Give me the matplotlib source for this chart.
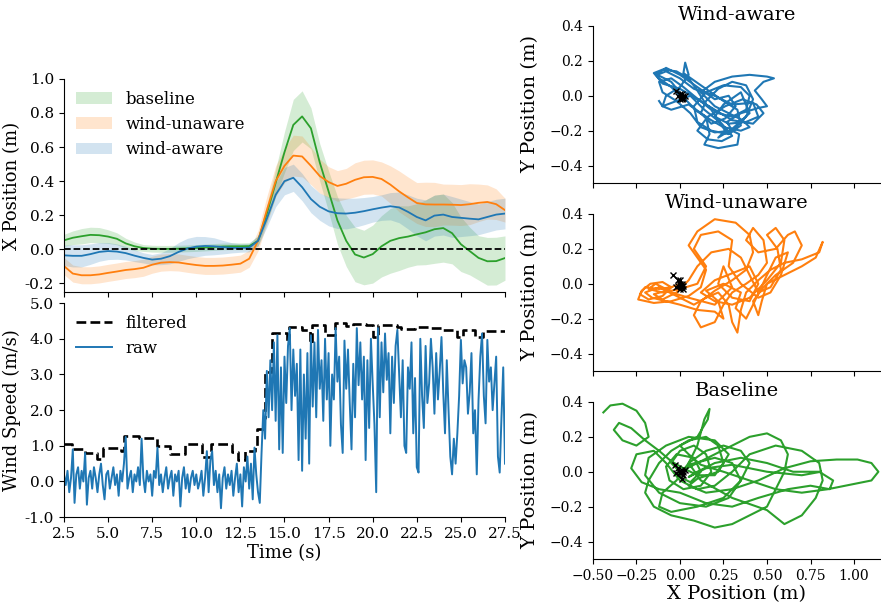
import numpy as np
import matplotlib
matplotlib.use("Agg")
from matplotlib import pyplot as plt
from matplotlib.ticker import FormatStrFormatter

plt.rcParams['font.family'] = ['DejaVu Serif']

# ---- X position over time (mean and spread), sampled every 0.5 s ----
t_pos = np.arange(2.5, 27.51, 0.5)

baseline_mean = [0.053, 0.068, 0.077, 0.085, 0.083, 0.075, 0.062, 0.035, 0.018, 0.008,
                 0.004, 0.003, 0.003, 0.004, 0.006, 0.008, 0.011, 0.014, 0.017, 0.018,
                 0.018, 0.019, 0.05, 0.21, 0.39, 0.57, 0.73, 0.78, 0.71, 0.51,
                 0.34, 0.17, 0.05, -0.03, -0.048, -0.028, 0.018, 0.05, 0.066, 0.075,
                 0.088, 0.1, 0.118, 0.125, 0.095, 0.03, -0.01, -0.05, -0.07, -0.069,
                 -0.051]
baseline_std = [0.035, 0.04, 0.045, 0.045, 0.045, 0.04, 0.035, 0.03, 0.025, 0.02,
                0.02, 0.02, 0.02, 0.02, 0.02, 0.02, 0.02, 0.02, 0.02, 0.02,
                0.02, 0.02, 0.03, 0.05, 0.08, 0.12, 0.15, 0.15, 0.12, 0.11,
                0.12, 0.14, 0.15, 0.16, 0.16, 0.17, 0.18, 0.19, 0.19, 0.18,
                0.18, 0.19, 0.2, 0.2, 0.18, 0.16, 0.14, 0.13, 0.14, 0.14,
                0.13]

unaware_mean = [-0.098, -0.142, -0.152, -0.152, -0.147, -0.138, -0.13, -0.121, -0.116, -0.108,
                -0.09, -0.078, -0.075, -0.077, -0.085, -0.092, -0.097, -0.097, -0.095, -0.09,
                -0.084, -0.055, 0.05, 0.23, 0.4, 0.49, 0.55, 0.545, 0.49, 0.43,
                0.395, 0.372, 0.385, 0.408, 0.423, 0.425, 0.413, 0.38, 0.34, 0.305,
                0.272, 0.264, 0.263, 0.263, 0.262, 0.26, 0.265, 0.273, 0.278, 0.265,
                0.23]
unaware_std = [0.05, 0.05, 0.05, 0.05, 0.05, 0.05, 0.05, 0.05, 0.05, 0.05,
               0.05, 0.05, 0.05, 0.05, 0.05, 0.05, 0.05, 0.05, 0.05, 0.05,
               0.05, 0.05, 0.06, 0.08, 0.09, 0.1, 0.12, 0.12, 0.11, 0.1,
               0.09, 0.09, 0.09, 0.1, 0.1, 0.1, 0.1, 0.11, 0.12, 0.12,
               0.12, 0.13, 0.13, 0.12, 0.12, 0.12, 0.12, 0.11, 0.1, 0.09,
               0.07]

aware_mean = [-0.035, -0.038, -0.038, -0.028, -0.015, -0.01, -0.013, -0.022, -0.037, -0.05,
              -0.06, -0.055, -0.04, -0.015, 0.005, 0.016, 0.02, 0.018, 0.013, 0.009,
              0.008, 0.01, 0.05, 0.18, 0.32, 0.4, 0.42, 0.365, 0.295, 0.25,
              0.223, 0.212, 0.21, 0.215, 0.224, 0.235, 0.245, 0.253, 0.246, 0.22,
              0.19, 0.17, 0.198, 0.204, 0.19, 0.185, 0.18, 0.176, 0.19, 0.204,
              0.21]
aware_std = [0.06, 0.065, 0.065, 0.06, 0.055, 0.05, 0.045, 0.04, 0.035, 0.03,
             0.03, 0.035, 0.045, 0.055, 0.06, 0.06, 0.055, 0.05, 0.04, 0.03,
             0.025, 0.025, 0.03, 0.05, 0.07, 0.08, 0.08, 0.08, 0.08, 0.08,
             0.085, 0.09, 0.09, 0.085, 0.08, 0.075, 0.075, 0.08, 0.09, 0.1,
             0.11, 0.12, 0.12, 0.12, 0.12, 0.11, 0.1, 0.09, 0.09, 0.09,
             0.09]

# ---- wind speed: raw (every 0.1 s) and filtered (step changes) ----
wind_raw = [0.2, -0.1, 0.3, -0.3, 0.1,
            0.9, -0.6, 0.2, 0.4, -0.2, 0.3, 0.0, 0.8, -0.65, 0.1,
            0.3, -0.2, 0.4, 0.1, -0.3, 0.2, 0.5, -0.1, -0.5, 0.2,
            0.3, -0.2, 0.1, 0.4, -0.1, 0.2, -0.4, 0.3, 0.0, 0.5,
            1.25, -0.2, 0.1, 0.3, -0.3, 0.2, 0.0, 0.4, -0.1, 1.2,
            0.1, -0.3, 0.3, 0.0, 0.2, -0.4, 0.3, 0.1, 0.95, -0.1,
            0.2, -0.3, 0.1, 0.4, -0.2, 0.1, 0.3, -0.4, 0.2, 0.0,
            0.3, -0.7, 0.1, 0.4, -0.2, 0.2, -0.3, 0.1, 0.3, -0.1,
            0.2, -0.2, 0.0, 0.3, -0.4, 0.1, 0.85, -0.3, 0.6, 0.85,
            -0.1, 0.3, -0.3, 0.2, -0.75, 0.1, 0.4, -0.2, 0.2, -0.1,
            0.3, -0.4, 0.1, 0.5, -0.3, 0.2, -0.7, 0.4, 0.0, 0.7,
            -0.2, 0.5, -0.5, 0.95, 0.2, -0.3,
            -0.6, 0.8, 2.0, 1.2, 3.1, 1.8, 3.4, 2.0, 3.9, 1.7,
            4.1, 0.9, 3.2, 0.8, 3.5, 2.2, 3.8, 4.3, 2.0, 3.7,
            2.4, 3.3, 0.6, 3.7, 0.3, 3.0, 1.2, 3.6, 0.5, 4.1,
            2.1, 3.9, 1.8, 4.25, 2.6, 3.4, 1.7, 4.0, 2.3, 3.6,
            1.0, 3.0, 2.3, 4.3, 2.8, 3.5, 1.6, 0.8, 3.95, 2.6,
            3.7, 2.2, 0.9, 3.3, 1.8, 4.3, 2.7, 3.9, 2.3, 3.5,
            0.6, 3.4, 1.5, 4.0, 2.75, 1.6, -0.3, 4.3, 1.8, 3.9,
            2.5, 4.15, 2.85, 3.6, 1.35, 3.5, 2.2, 3.8, 4.25, 3.0,
            1.8, 3.4, 1.0, 0.8, 3.2, 2.6, 3.9, 1.35, 2.9, 0.4,
            0.25, 4.0, 2.4, 1.5, 3.8, 2.2, 2.75, 4.0, 3.2, 1.9,
            3.6, 2.3, 3.1, 4.05, 2.5, 1.35, 3.4, 2.0, 0.7, 0.2,
            1.2, 0.5, 1.35, 2.4, 3.97, 2.75, 3.4, 3.2, 1.9, 2.5,
            3.6, 1.35, 2.0, 0.2, 2.28, 3.5, 4.15, 2.4, 1.63, 3.97,
            2.8, 3.2, 2.0, 2.75, 3.5, 0.7, 0.25, 1.8, 3.2, 0.5]
t_raw = np.linspace(2.5, 27.5, len(wind_raw))

filt_t = [2.5, 2.95, 3.7, 4.35, 4.7, 5.75, 5.9, 6.75, 7.75, 8.5,
          9.35, 10.3, 10.85, 12.0, 12.38, 12.76, 13.33, 13.42, 13.8, 13.9,
          14.27, 15.12, 15.26, 15.97, 16.45, 16.54, 17.3, 17.86, 18.5, 18.9,
          19.6, 20.03, 20.3, 21.36, 21.6, 22.4, 23.3, 24.0, 24.8, 25.1,
          25.8, 26.25, 27.5]
filt_v = [1.05, 0.90, 0.80, 0.64, 0.95, 0.85, 1.27, 1.23, 1.00, 0.78,
          1.05, 0.68, 1.06, 0.83, 0.61, 0.85, 0.97, 1.48, 1.77, 3.07,
          4.15, 3.87, 4.33, 4.25, 3.87, 4.38, 4.10, 4.43, 4.36, 4.42,
          4.40, 4.05, 4.40, 4.34, 4.27, 4.33, 4.30, 4.25, 4.05, 4.25,
          4.04, 4.22, 4.22]

# ---- XY trajectories, (x, y) pairs in metres ----
aware_xy = [(0.00, 0.00), (-0.05, 0.05), (-0.12, 0.10), (-0.15, 0.13), (-0.10, 0.15), (-0.02, 0.14),
            (0.05, 0.10), (0.10, 0.03), (0.15, -0.05), (0.22, -0.10), (0.30, -0.12), (0.38, -0.08),
            (0.40, 0.00), (0.35, 0.05), (0.25, 0.06), (0.15, 0.02), (0.08, -0.06), (0.10, -0.15),
            (0.18, -0.20), (0.28, -0.22), (0.35, -0.17), (0.33, -0.08), (0.25, -0.03), (0.12, 0.06),
            (0.02, 0.13), (0.03, 0.19), (0.05, 0.12), (0.00, 0.05), (-0.08, 0.00), (-0.10, -0.06),
            (-0.05, -0.08), (0.05, -0.05), (0.15, -0.12), (0.17, -0.22), (0.14, -0.28), (0.22, -0.30),
            (0.33, -0.28), (0.34, -0.22), (0.30, -0.20), (0.27, -0.15), (0.35, -0.10), (0.45, -0.07),
            (0.50, -0.06), (0.47, -0.02), (0.43, 0.03), (0.48, 0.08), (0.54, 0.10), (0.50, 0.11),
            (0.40, 0.12), (0.30, 0.11), (0.20, 0.08), (0.12, 0.02), (0.20, -0.06), (0.28, -0.10),
            (0.36, -0.14), (0.40, -0.18), (0.35, -0.20), (0.25, -0.18), (0.18, -0.14), (0.10, -0.09),
            (0.03, -0.02), (-0.05, 0.08), (-0.13, 0.12), (-0.08, 0.14), (0.00, 0.10), (0.08, 0.04),
            (0.20, 0.00), (0.30, -0.05), (0.42, -0.04), (0.45, -0.12), (0.38, -0.15), (0.28, -0.16),
            (0.20, -0.12), (0.25, -0.05), (0.35, 0.02), (0.40, -0.10), (0.30, -0.19), (0.22, -0.24),
            (0.26, -0.20), (0.18, -0.08), (0.08, 0.00), (0.02, 0.05), (-0.05, 0.10), (-0.12, 0.08),
            (-0.10, 0.02), (-0.02, -0.03), (0.06, -0.10), (0.12, -0.18), (0.20, -0.21), (0.30, -0.20),
            (0.38, -0.12), (0.42, -0.02), (0.38, 0.06), (0.30, 0.08), (0.22, 0.04), (0.15, -0.03),
            (0.12, -0.10), (0.18, -0.16), (0.26, -0.13), (0.32, -0.06), (0.28, 0.00), (0.20, -0.02),
            (0.10, 0.05), (0.00, 0.12), (-0.08, 0.16), (-0.14, 0.12), (-0.10, 0.07), (0.00, 0.04),
            (0.10, -0.02), (0.20, -0.08), (0.30, -0.14), (0.42, -0.16), (0.48, -0.10), (0.44, -0.05),
            (0.36, -0.02), (0.26, -0.06), (0.16, -0.12), (0.10, -0.20), (0.16, -0.25), (0.24, -0.26),
            (0.30, -0.23), (0.24, -0.16), (0.14, -0.08), (0.06, 0.00), (-0.10, -0.06), (-0.12, -0.03)]

unaware_xy = [(0.0, 0.0), (-0.05, -0.02), (-0.12, -0.03), (-0.2, -0.02), (-0.23, -0.06), (-0.18, -0.09),
              (-0.1, -0.07), (-0.05, -0.02), (-0.1, 0.01), (-0.17, 0.0), (-0.22, -0.04), (-0.24, -0.09),
              (-0.15, -0.11), (-0.05, -0.1), (0.05, -0.07), (0.12, -0.02), (0.15, 0.08), (0.10, 0.15),
              (0.05, 0.22), (0.10, 0.30), (0.2, 0.37), (0.32, 0.35), (0.4, 0.28), (0.42, 0.18),
              (0.38, 0.08), (0.3, 0.02), (0.2, -0.04), (0.12, -0.1), (0.08, -0.18), (0.12, -0.25),
              (0.2, -0.22), (0.25, -0.12), (0.3, -0.05), (0.38, 0.0), (0.45, 0.05), (0.5, 0.12),
              (0.48, 0.25), (0.42, 0.32), (0.38, 0.25), (0.45, 0.18), (0.55, 0.2), (0.62, 0.28),
              (0.66, 0.3), (0.7, 0.22), (0.65, 0.12), (0.55, 0.05), (0.48, -0.02), (0.42, -0.1),
              (0.45, -0.18), (0.47, -0.1), (0.5, 0.0), (0.6, 0.05), (0.7, 0.1), (0.78, 0.15),
              (0.82, 0.24), (0.8, 0.18), (0.7, 0.14), (0.6, 0.12), (0.52, 0.08), (0.45, 0.02),
              (0.38, -0.05), (0.35, -0.15), (0.33, -0.28), (0.3, -0.22), (0.28, -0.12), (0.22, -0.05),
              (0.15, -0.08), (0.08, -0.12), (0.0, -0.08), (-0.08, -0.04), (-0.15, -0.06), (-0.1, -0.09),
              (-0.02, -0.05), (0.05, 0.02), (0.1, 0.1), (0.18, 0.18), (0.28, 0.2), (0.35, 0.15),
              (0.4, 0.05), (0.45, -0.05), (0.52, -0.02), (0.58, 0.08), (0.56, 0.2), (0.5, 0.28),
              (0.55, 0.32), (0.6, 0.25), (0.58, 0.12), (0.5, 0.02), (0.4, -0.08), (0.3, -0.12),
              (0.2, -0.1), (0.12, -0.05), (0.2, 0.02), (0.3, 0.06), (0.4, 0.1), (0.45, 0.0),
              (0.4, -0.1), (0.3, -0.08), (0.22, 0.0), (0.25, 0.1), (0.3, -0.02), (0.2, -0.12),
              (0.05, -0.08), (-0.05, -0.05), (-0.12, -0.02), (-0.2, -0.05), (-0.16, -0.08), (-0.08, -0.1),
              (0.0, -0.12), (0.1, -0.15), (0.2, -0.16), (0.25, -0.2), (0.22, -0.1), (0.15, -0.04),
              (0.25, 0.0), (0.35, -0.05), (0.32, -0.14), (0.38, -0.2), (0.42, -0.12), (0.5, 0.05),
              (0.55, 0.15), (0.62, 0.18), (0.58, 0.05), (0.52, -0.05), (0.45, -0.08), (0.35, 0.0),
              (0.28, 0.1), (0.3, 0.25), (0.22, 0.3), (0.12, 0.28), (0.08, 0.2), (0.15, 0.1),
              (0.1, 0.0), (0.0, -0.03), (-0.1, -0.05), (-0.18, -0.03), (-0.14, 0.0), (-0.06, -0.04)]

baseline_xy = [(-0.44, 0.34), (-0.4, 0.38), (-0.33, 0.39), (-0.25, 0.35), (-0.2, 0.28), (-0.18, 0.2),
               (-0.25, 0.15), (-0.33, 0.18), (-0.38, 0.24), (-0.35, 0.28), (-0.28, 0.25), (-0.2, 0.18),
               (-0.12, 0.12), (-0.05, 0.06), (0.02, 0.02), (0.1, -0.02), (0.2, -0.02), (0.25, 0.05),
               (0.22, 0.15), (0.15, 0.2), (0.05, 0.18), (-0.05, 0.12), (-0.12, 0.05), (-0.18, -0.05),
               (-0.2, -0.12), (-0.15, -0.2), (-0.05, -0.25), (0.08, -0.28), (0.2, -0.32), (0.3, -0.3),
               (0.4, -0.25), (0.5, -0.2), (0.55, -0.1), (0.6, 0.0), (0.62, 0.1), (0.58, 0.18),
               (0.5, 0.22), (0.4, 0.2), (0.3, 0.15), (0.2, 0.1), (0.1, 0.05), (0.0, 0.0),
               (-0.05, 0.05), (0.0, 0.12), (0.08, 0.15), (0.15, 0.1), (0.18, 0.0), (0.12, -0.08),
               (0.02, -0.1), (-0.06, -0.05), (-0.08, 0.03), (-0.02, 0.1), (0.08, 0.08), (0.12, 0.0),
               (0.06, -0.06), (-0.02, -0.02), (0.05, 0.04), (0.2, 0.08), (0.3, 0.05), (0.35, -0.05),
               (0.28, -0.15), (0.15, -0.2), (0.0, -0.18), (-0.12, -0.12), (-0.2, -0.02), (-0.18, 0.08),
               (-0.08, 0.15), (0.05, 0.2), (0.2, 0.18), (0.28, 0.1), (0.22, 0.0), (0.1, -0.04),
               (0.05, -0.08), (0.15, -0.12), (0.3, -0.1), (0.45, -0.05), (0.6, 0.02), (0.75, 0.06),
               (0.9, 0.07), (1.02, 0.07), (1.1, 0.05), (1.14, 0.0), (1.1, -0.05), (1.0, -0.07),
               (0.85, -0.1), (0.7, -0.12), (0.55, -0.1), (0.4, -0.05), (0.25, 0.0), (0.12, 0.04),
               (0.05, 0.1), (0.0, 0.15), (0.1, 0.2), (0.16, 0.3), (0.17, 0.36), (0.14, 0.3),
               (0.1, 0.15), (0.05, 0.05), (-0.02, -0.05), (-0.1, -0.12), (-0.12, -0.2), (-0.05, -0.23),
               (0.1, -0.2), (0.25, -0.15), (0.35, -0.05), (0.4, 0.05), (0.35, 0.12), (0.25, 0.15),
               (0.15, 0.12), (0.05, 0.05), (0.12, -0.05), (0.3, -0.15), (0.5, -0.22), (0.6, -0.3),
               (0.7, -0.25), (0.78, -0.15), (0.82, -0.05), (0.8, 0.05), (0.7, 0.12), (0.55, 0.15),
               (0.4, 0.1), (0.3, 0.0), (0.2, -0.08), (0.1, -0.1), (0.0, -0.05), (-0.08, 0.05),
               (-0.15, 0.12), (-0.25, 0.1), (-0.28, 0.02), (-0.22, -0.06), (-0.12, -0.1), (0.0, -0.12),
               (0.15, -0.18), (0.3, -0.2), (0.45, -0.15), (0.62, -0.1), (0.75, -0.08), (0.86, -0.1),
               (0.88, -0.05), (0.8, 0.0), (0.65, 0.0), (0.5, 0.05), (0.35, 0.08), (0.2, 0.05),
               (0.1, 0.0), (0.05, -0.03), (0.15, 0.02), (0.3, 0.04), (0.5, 0.0), (0.7, -0.02),
               (0.81, 0.0)]

# black x marks near the origin (setpoints)
aware_marks = [(-0.02, 0.03), (0.0, 0.01), (0.01, -0.01), (0.02, 0.0), (0.0, -0.02),
               (0.01, 0.01), (-0.01, 0.0), (0.02, -0.01), (0.03, 0.0), (0.01, -0.02)]
unaware_marks = [(-0.04, 0.05), (-0.01, 0.02), (0.0, 0.0), (0.01, -0.01), (-0.02, -0.02), (0.0, -0.03),
                 (0.01, 0.0), (0.02, -0.01), (0.0, 0.02), (-0.01, -0.01), (0.02, -0.03)]
baseline_marks = [(-0.03, 0.04), (-0.01, 0.02), (0.0, 0.0), (0.01, 0.01), (-0.02, -0.01),
                  (0.01, -0.04), (0.02, 0.0), (0.03, 0.01), (0.0, -0.01), (0.02, -0.02)]

blue, orange, green = '#1f77b4', '#ff7f0e', '#2ca02c'

fig = plt.figure(figsize=(8.81, 6.07), dpi=100)

# ---- top left: x position ----
ax1 = fig.add_axes([0.0726, 0.519, 0.5006, 0.351])
series = [(baseline_mean, baseline_std, green, 'baseline'),
          (unaware_mean, unaware_std, orange, 'wind-unaware'),
          (aware_mean, aware_std, blue, 'wind-aware')]
handles = []
for mean, std, col, lab in series:
    m = np.array(mean)
    s = np.array(std)
    h = ax1.fill_between(t_pos, m - s, m + s, color=col, alpha=0.2, lw=0, label=lab)
    ax1.plot(t_pos, m, color=col, lw=1.3)
    handles.append(h)
ax1.axhline(0, color='black', ls='--', lw=1.3)
ax1.set_xlim(2.5, 27.5)
ax1.set_ylim(-0.25, 1.0)
ax1.set_yticks([-0.2, 0.0, 0.2, 0.4, 0.6, 0.8, 1.0])
ax1.yaxis.set_major_formatter(FormatStrFormatter('%.1f'))
ax1.set_xticks(np.arange(2.5, 27.6, 2.5))
ax1.tick_params(labelbottom=False, labelsize=11)
ax1.set_ylabel('X Position (m)', fontsize=13)
ax1.yaxis.set_label_coords(-0.098, 0.5)
ax1.legend(handles=handles, loc='upper left', frameon=False, fontsize=12,
           handlelength=2.2, borderaxespad=0.3)
for sp in ['top', 'right']:
    ax1.spines[sp].set_visible(False)

# ---- bottom left: wind speed ----
ax2 = fig.add_axes([0.0726, 0.148, 0.5006, 0.3526])
ax2.plot(filt_t, filt_v, color='black', ls='--', lw=1.9, drawstyle='steps-post', label='filtered')
ax2.plot(t_raw, wind_raw, color=blue, lw=1.4, label='raw')
ax2.set_xlim(2.5, 27.5)
ax2.set_ylim(-1.0, 5.0)
ax2.set_xticks(np.arange(2.5, 27.6, 2.5))
ax2.xaxis.set_major_formatter(FormatStrFormatter('%.1f'))
ax2.yaxis.set_major_formatter(FormatStrFormatter('%.1f'))
ax2.tick_params(labelsize=11)
ax2.set_xlabel('Time (s)', fontsize=13, labelpad=2)
ax2.set_ylabel('Wind Speed (m/s)', fontsize=13)
ax2.yaxis.set_label_coords(-0.098, 0.5)
ax2.legend(loc='upper left', frameon=False, fontsize=12, handlelength=2.2, borderaxespad=0.3)
for sp in ['top', 'right']:
    ax2.spines[sp].set_visible(False)

# ---- right: trajectories ----
traj = [('Wind-aware', aware_xy, aware_marks, blue, 0.6985),
        ('Wind-unaware', unaware_xy, unaware_marks, orange, 0.3888),
        ('Baseline', baseline_xy, baseline_marks, green, 0.0791)]
for i, (title, path, marks, col, bottom) in enumerate(traj):
    ax = fig.add_axes([0.673, bottom, 0.327, 0.2587])
    px, py = np.array(path).T
    mx, my = np.array(marks).T
    ax.plot(px, py, color=col, lw=1.5)
    ax.plot(mx, my, color='black', marker='x', ms=5, lw=1)
    ax.set_xlim(-0.5, 1.155)
    ax.set_ylim(-0.5, 0.4)
    ax.set_xticks([-0.5, -0.25, 0.0, 0.25, 0.5, 0.75, 1.0])
    ax.set_yticks([-0.4, -0.2, 0.0, 0.2, 0.4])
    ax.tick_params(labelsize=10)
    ax.set_title(title, fontsize=14, pad=4)
    ax.set_ylabel('Y Position (m)', fontsize=14)
    ax.yaxis.set_label_coords(-0.185, 0.5)
    if i < 2:
        ax.tick_params(labelbottom=False)
    else:
        ax.set_xlabel('X Position (m)', fontsize=14, labelpad=2)
    for sp in ['top', 'right']:
        ax.spines[sp].set_visible(False)

fig.savefig('out.png', dpi=100)
